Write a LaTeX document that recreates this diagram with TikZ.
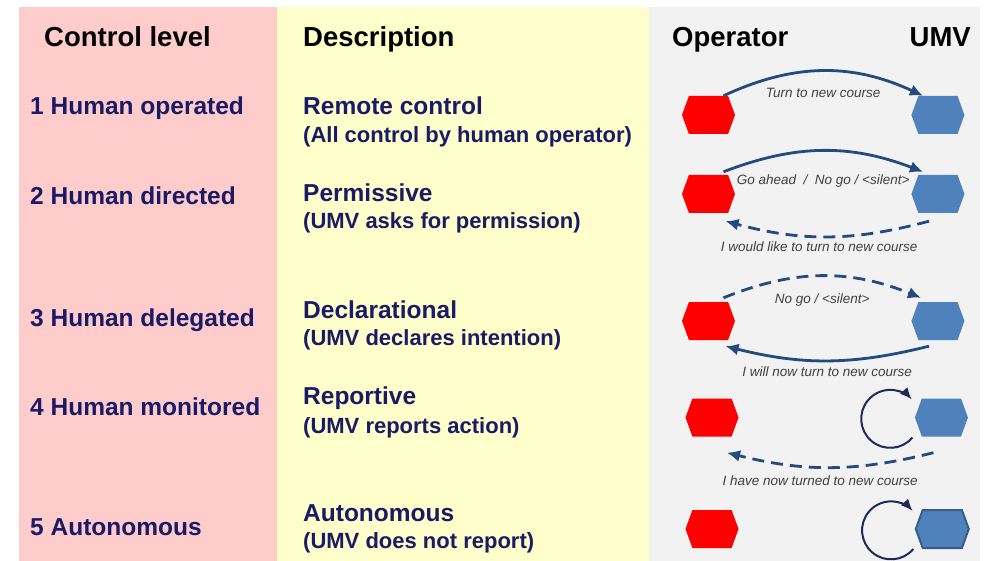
\documentclass[tikz,border=0pt]{standalone}
\usepackage{fontspec}
\setmainfont{Liberation Sans}
\usetikzlibrary{positioning,shapes.symbols,arrows.meta}
\definecolor{pinkbg}{HTML}{FFCCCC}
\definecolor{yellowbg}{HTML}{FFFFCC}
\definecolor{greybg}{HTML}{F2F2F2}
\definecolor{navy}{HTML}{1A1A66}
\definecolor{opred}{HTML}{FF0000}
\definecolor{umvblue}{HTML}{4F81BD}
\definecolor{umvedge}{HTML}{385D8A}
\definecolor{arrowblue}{HTML}{254A7E}
\definecolor{loopblue}{HTML}{1F2A5C}
\definecolor{lblgrey}{HTML}{404040}

\begin{document}
\begin{tikzpicture}[x=1pt,y=1pt,
  headtxt/.style={anchor=base west, inner sep=0pt, font=\bfseries\fontsize{27.5}{30}\selectfont},
  lvl/.style={anchor=base west, inner sep=0pt, text=navy, font=\bfseries\fontsize{24.5}{28}\selectfont},
  subtxt/.style={anchor=base west, inner sep=0pt, text=navy, font=\bfseries\fontsize{22}{26}\selectfont},
  hexa/.style={signal, signal to=east and west, signal pointer angle=140, minimum width=53pt, minimum height=38pt, inner sep=0pt},
  opnode/.style={hexa, fill=opred},
  umv/.style={hexa, fill=umvblue},
  flow/.style={draw=arrowblue, line width=2.8pt, -{Latex[length=13pt,width=12pt]}},
  loopy/.style={draw=loopblue, line width=2pt, -{Latex[length=12pt,width=10pt]}},
  lbl/.style={inner sep=0pt, text=lblgrey, font=\itshape\fontsize{13.5}{15}\selectfont}]
  \useasboundingbox (0,0) rectangle (990,-561);
  \fill[white] (0,0) rectangle (990,-561);
  \fill[pinkbg] (19,-7) rectangle (277,-561);
  \fill[yellowbg] (277,-7) rectangle (649,-561);
  \fill[greybg] (649,-7) rectangle (980,-561);

  \node[headtxt] (hcl) at (44,-47) {Control level};
  \node[headtxt] (hdesc) at (303,-47) {Description};
  \node[headtxt] (hop) at (672,-47) {Operator};
  \node[headtxt, anchor=base east] (humv) at (971,-47) {UMV};

  \node[lvl] (l1) at (30,-115) {1 Human operated};
  \node[lvl] (l2) at (30,-205) {2 Human directed};
  \node[lvl] (l3) at (30,-326) {3 Human delegated};
  \node[lvl] (l4) at (30,-415) {4 Human monitored};
  \node[lvl] (l5) at (30,-535) {5 Autonomous};

  \node[lvl] (d1) at (303,-115) {Remote control};
  \node[subtxt] (d1s) at (303,-143) {(All control by human operator)};
  \node[lvl] (d2) at (303,-202) {Permissive};
  \node[subtxt] (d2s) at (303,-229) {(UMV asks for permission)};
  \node[lvl] (d3) at (303,-318.5) {Declarational};
  \node[subtxt] (d3s) at (303,-345.5) {(UMV declares intention)};
  \node[lvl] (d4) at (303,-404.5) {Reportive};
  \node[subtxt] (d4s) at (303,-433) {(UMV reports action)};
  \node[lvl] (d5) at (303,-521) {Autonomous};
  \node[subtxt] (d5s) at (303,-548) {(UMV does not report)};

  \node[opnode] (op1) at (708.5,-115) {};
  \node[umv] (umv1) [right=176pt of op1] {};
  \node[opnode] (op2) at (708.5,-194) {};
  \node[umv] (umv2) [right=176pt of op2] {};
  \node[opnode] (op3) at (708.5,-321) {};
  \node[umv] (umv3) [right=176pt of op3] {};
  \node[opnode] (op4) at (712,-417.5) {};
  \node[umv] (umv4) [right=176pt of op4] {};
  \node[opnode] (op5) at (712,-529) {};
  \node[umv, draw=umvedge, line width=2pt] (umv5) [right=176pt of op5] {};

  \draw[flow] ([xshift=15pt]op1.north) to[bend left=25] node[lbl, below=16pt] {Turn to new course} ([xshift=-15pt]umv1.north);
  \draw[flow] ([xshift=15pt,yshift=3pt]op2.north) to[bend left=21] node[lbl, below=22pt] {Go ahead \ / \ No go / <silent>} ([xshift=-15pt,yshift=3pt]umv2.north);
  \draw[flow, dash pattern=on 12pt off 7pt] ([xshift=-9pt,yshift=-8pt]umv2.south) to[bend left=15] node[lbl, below=4pt, xshift=-8pt] {I would like to turn to new course} ([xshift=17pt,yshift=-8pt]op2.south);
  \draw[flow, dash pattern=on 12pt off 7pt] ([xshift=15pt,yshift=4pt]op3.north) to[bend left=22] node[lbl, below=16pt] {No go / <silent>} ([xshift=-17pt,yshift=4pt]umv3.north);
  \draw[flow] ([xshift=-9pt,yshift=-6pt]umv3.south) to[bend left=14] node[lbl, below=5pt] {I will now turn to new course} ([xshift=17pt,yshift=-6pt]op3.south);
  \draw[loopy] ([shift={(-29pt,-20pt)}]umv4.center) arc[start angle=-40, end angle=-318, radius=29pt];
  \draw[flow, dash pattern=on 12pt off 7pt] ([xshift=-8pt,yshift=-16pt]umv4.south) to[bend left=14] node[lbl, below=7pt, xshift=-10pt] {I have now turned to new course} ([xshift=15pt,yshift=-16pt]op4.south);
  \draw[loopy] ([shift={(-29pt,-20pt)}]umv5.center) arc[start angle=-40, end angle=-318, radius=29pt];
\end{tikzpicture}
\end{document}
